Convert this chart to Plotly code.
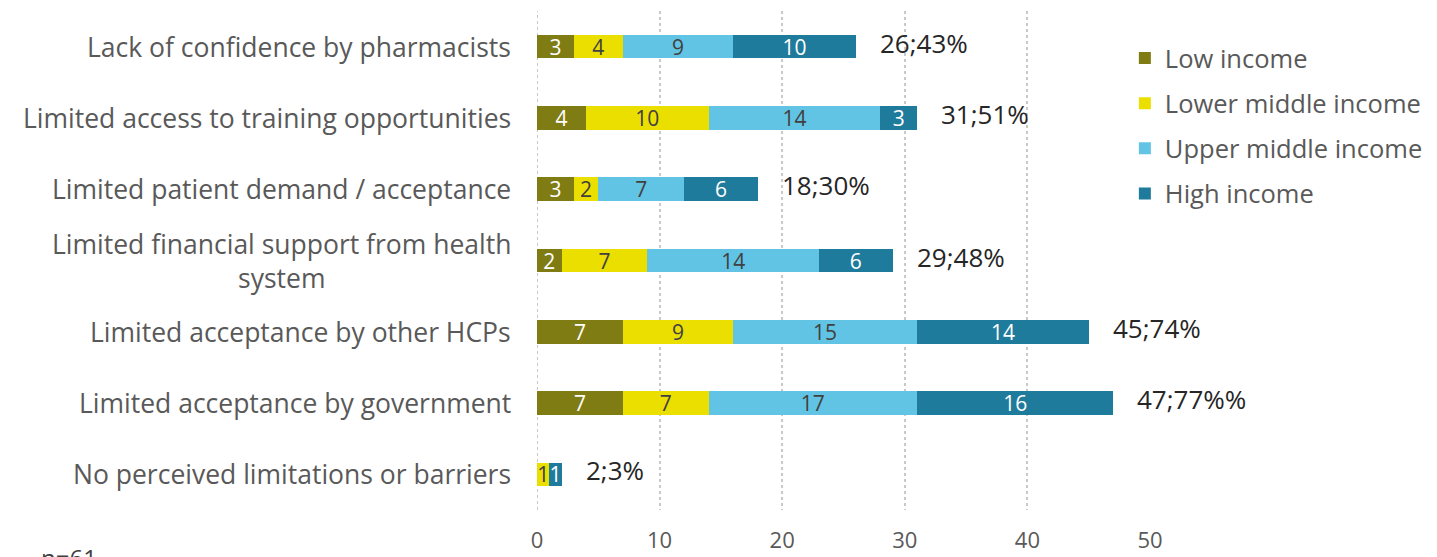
import plotly.graph_objects as go

categories = [
    "Lack of confidence by pharmacists",
    "Limited access to training opportunities",
    "Limited patient demand / acceptance",
    "Limited financial support from health<br>system",
    "Limited acceptance by other HCPs",
    "Limited acceptance by government",
    "No perceived limitations or barriers",
]
low_income = [3, 4, 3, 2, 7, 7, 0]
lower_middle_income = [4, 10, 2, 7, 9, 7, 1]
upper_middle_income = [9, 14, 7, 14, 15, 17, 0]
high_income = [10, 3, 6, 6, 14, 16, 1]
total_labels = ["26;43%", "31;51%", "18;30%", "29;48%", "45;74%", "47;77%%", "2;3%"]
x_ticks = [0, 10, 20, 30, 40, 50]

series = [
    ("Low income", low_income, "#7f7c13", "white"),
    ("Lower middle income", lower_middle_income, "#ebdf00", "#404040"),
    ("Upper middle income", upper_middle_income, "#62c4e4", "#404040"),
    ("High income", high_income, "#1f7b9c", "white"),
]

FONT = "Open Sans"
fig = go.Figure()
for i, (name, vals, color, tcol) in enumerate(series):
    fig.add_trace(go.Bar(
        name=name, y=categories, x=vals, orientation="h",
        marker=dict(color=color, line=dict(width=0)),
        text=[str(v) if v else "" for v in vals],
        textposition="inside", insidetextanchor="middle", textangle=0,
        textfont=dict(color=tcol, size=21, family=FONT),
        legendgroup=str(i),
    ))

totals = [a + b + c + d for a, b, c, d in zip(low_income, lower_middle_income, upper_middle_income, high_income)]
for cat, tot, lab in zip(categories, totals, total_labels):
    fig.add_annotation(x=tot, y=cat, xref="x", yref="y", text=lab, showarrow=False,
                       xanchor="left", xshift=22, yshift=4,
                       font=dict(size=26, color="#262626", family=FONT))
    fig.add_annotation(x=0, y=cat, xref="paper", yref="y", text=cat, showarrow=False,
                       xanchor="right", align="center", xshift=-24,
                       font=dict(size=26.5, color="#595959", family=FONT))

fig.add_annotation(x=-0.812, y=-0.058, xref="paper", yref="paper", text="n=61",
                   showarrow=False, xanchor="left", yanchor="top",
                   font=dict(size=24, color="#404040", family=FONT))

# page body has an 8px default margin, so the figure is sized to fit the window
fig.update_layout(
    width=1429, height=549,
    margin=dict(l=529, r=287, t=3, b=47, autoexpand=False),
    barmode="stack", bargap=0.67,
    plot_bgcolor="white", paper_bgcolor="white",
    uniformtext=dict(minsize=21, mode="show"),
    legend=dict(x=0.959, y=0.952, xanchor="left", yanchor="top",
                traceorder="grouped", tracegroupgap=9,
                font=dict(size=25.5, color="#595959", family=FONT),
                bgcolor="rgba(0,0,0,0)", itemwidth=30),
    xaxis=dict(range=[0, 50], tickvals=x_ticks, showgrid=True, gridcolor="#c9c9c9",
               griddash="dot", gridwidth=2, zeroline=False, showline=False,
               ticklabelstandoff=15, automargin=False,
               tickfont=dict(size=22, color="#595959", family=FONT)),
    yaxis=dict(autorange="reversed", showticklabels=False, showgrid=False,
               zeroline=False, showline=False, automargin=False),
)
fig.add_shape(type="line", xref="x", yref="paper", x0=0, x1=0, y0=0, y1=1,
              line=dict(color="#c9c9c9", width=2, dash="dot"), layer="below")

fig.write_html("out.html")
